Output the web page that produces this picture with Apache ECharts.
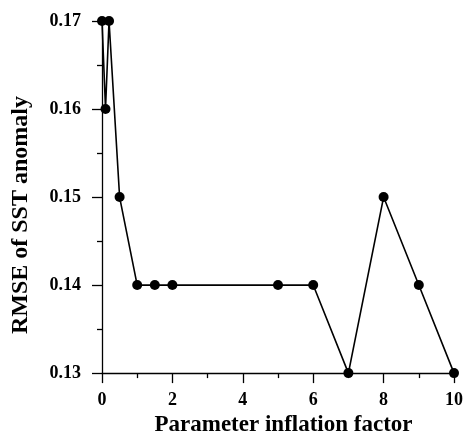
<!DOCTYPE html>
<html>
<head>
<meta charset="utf-8">
<script src="https://cdn.jsdelivr.net/npm/echarts@6/dist/echarts.min.js"></script>
<style>
html,body{margin:0;padding:0;background:#fff;}
#chart{width:466px;height:442px;}
</style>
</head>
<body>
<div id="chart"></div>
<script>
// Parameter inflation factor vs. RMSE of SST anomaly
const inflationFactor = [0, 0.1, 0.2, 0.5, 1, 1.5, 2, 5, 6, 7, 8, 9, 10];
const rmse = [0.17, 0.16, 0.17, 0.15, 0.14, 0.14, 0.14, 0.14, 0.14, 0.13, 0.15, 0.14, 0.13];
const xTitle = 'Parameter inflation factor';
const yTitle = 'RMSE of SST anomaly';

const font = 'Liberation Serif';
const black = '#000';
const chart = echarts.init(document.getElementById('chart'));
chart.setOption({
  animation: false,
  grid: { left: 102, right: 10, top: 21, bottom: 66 },
  xAxis: {
    type: 'value', min: 0, max: 10, interval: 2,
    name: xTitle, nameLocation: 'middle', nameGap: 40,
    nameTextStyle: { fontFamily: font, fontWeight: 'bold', fontSize: 23, color: black,
      padding: [0, 0, 0, 11] },
    axisLine: { lineStyle: { color: black, width: 1.3 } },
    axisTick: { inside: false, length: 10, lineStyle: { color: black, width: 1.3 } },
    minorTick: { show: true, splitNumber: 2, length: 5, lineStyle: { color: black, width: 1.3 } },
    axisLabel: { fontFamily: font, fontWeight: 'bold', fontSize: 18, color: black, margin: 18 },
    splitLine: { show: false }
  },
  yAxis: {
    type: 'value', min: 0.13, max: 0.17, interval: 0.01,
    name: yTitle, nameLocation: 'middle', nameGap: 69, nameRotate: 90,
    nameTextStyle: { fontFamily: font, fontWeight: 'bold', fontSize: 24, color: black,
      padding: [0, 36, 0, 0] },
    axisLine: { show: true, lineStyle: { color: black, width: 1.3 } },
    axisTick: { show: true, inside: false, length: 10, lineStyle: { color: black, width: 1.3 } },
    minorTick: { show: true, splitNumber: 2, length: 5, lineStyle: { color: black, width: 1.3 } },
    axisLabel: { fontFamily: font, fontWeight: 'bold', fontSize: 18, color: black, margin: 21,
      formatter: v => v.toFixed(2) },
    splitLine: { show: false }
  },
  series: [{
    type: 'line',
    data: inflationFactor.map((x, i) => [x, rmse[i]]),
    symbol: 'circle', symbolSize: 10,
    itemStyle: { color: black },
    lineStyle: { color: black, width: 1.6 },
    clip: false
  }]
});
</script>
</body>
</html>
